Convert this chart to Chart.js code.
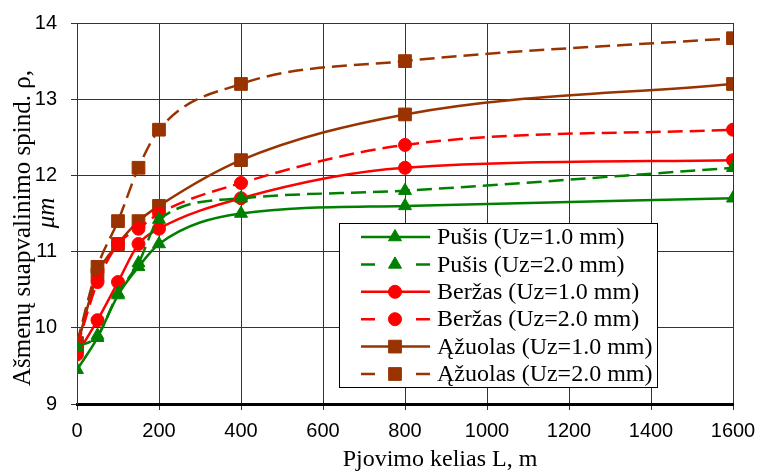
<!DOCTYPE html>
<html>
<head>
<meta charset="utf-8">
<script src="https://cdn.jsdelivr.net/npm/chart.js@4/dist/chart.umd.min.js"></script>
<style>
html,body{margin:0;padding:0;background:#fff;}
#wrap{width:758px;height:471px;position:relative;}
</style>
</head>
<body>
<div id="wrap"><canvas id="c" width="758" height="471"></canvas></div>
<script>
// Distances (cutting path L, m)
const distances = [0, 50, 100, 150, 200, 400, 800, 1600];
// Series values (rounding radius, µm)
const pusis10   = [9.45, 9.87, 10.43, 10.8, 11.1, 11.5, 11.6, 11.7];
const pusis20   = [9.75, 9.9, 10.45, 10.85, 11.42, 11.7, 11.8, 12.1];
const berzas10  = [9.65, 10.1, 10.6, 11.1, 11.3, 11.7, 12.1, 12.2];
const berzas20  = [9.75, 10.6, 11.1, 11.3, 11.5, 11.9, 12.4, 12.6];
const azuolas10 = [9.75, 10.7, 11.1, 11.4, 11.6, 12.2, 12.8, 13.2];
const azuolas20 = [9.8, 10.8, 11.4, 12.1, 12.6, 13.2, 13.5, 13.8];
const seriesLabels = [
  'Pušis (Uz=1.0 mm)', 'Pušis (Uz=2.0 mm)',
  'Beržas (Uz=1.0 mm)', 'Beržas (Uz=2.0 mm)',
  'Ąžuolas (Uz=1.0 mm)', 'Ąžuolas (Uz=2.0 mm)'
];
const xTickValues = [0, 200, 400, 600, 800, 1000, 1200, 1400, 1600];
const yTickValues = [9, 10, 11, 12, 13, 14];
const yTitle = 'Ašmenų suapvalinimo spind. ρ,';
const yUnit = 'μm';
const xTitle = 'Pjovimo kelias L, m';

const GREEN = '#008000', RED = '#FF0000', BROWN = '#993300';
const DASH = [15, 7];

function ds(label, values, color, shape, dashed, radius) {
  return {
    label: label,
    data: distances.map((x, i) => ({x: x, y: values[i]})),
    borderColor: color,
    backgroundColor: color,
    pointBackgroundColor: color,
    pointBorderColor: color,
    pointStyle: shape,
    pointRadius: radius,
    pointHoverRadius: radius,
    pointBorderWidth: 1,
    borderWidth: 2.5,
    borderDash: dashed ? DASH : [],
    cubicInterpolationMode: 'monotone',
    fill: false
  };
}

const datasets = [
  ds(seriesLabels[0], pusis10, GREEN, 'triangle', false, 7.5),
  ds(seriesLabels[1], pusis20, GREEN, 'triangle', true, 7.5),
  ds(seriesLabels[2], berzas10, RED, 'circle', false, 6.5),
  ds(seriesLabels[3], berzas20, RED, 'circle', true, 6.5),
  ds(seriesLabels[4], azuolas10, BROWN, 'rect', false, 9),
  ds(seriesLabels[5], azuolas20, BROWN, 'rect', true, 9)
];

function drawMarker(ctx, shape, x, y, r, color) {
  ctx.save();
  ctx.fillStyle = color;
  ctx.strokeStyle = color;
  ctx.setLineDash([]);
  ctx.lineWidth = 1;
  ctx.beginPath();
  if (shape === 'triangle') {
    ctx.moveTo(x, y - r);
    ctx.lineTo(x + r * Math.sin(2 * Math.PI / 3), y - r * Math.cos(2 * Math.PI / 3));
    ctx.lineTo(x + r * Math.sin(4 * Math.PI / 3), y - r * Math.cos(4 * Math.PI / 3));
    ctx.closePath();
  } else if (shape === 'circle') {
    ctx.arc(x, y, r, 0, Math.PI * 2);
  } else {
    const s = r * Math.SQRT1_2;
    ctx.rect(x - s, y - s, 2 * s, 2 * s);
  }
  ctx.fill();
  ctx.stroke();
  ctx.restore();
}

const decorPlugin = {
  id: 'decor',
  afterDraw(chart) {
    const ctx = chart.ctx;
    // axis titles
    ctx.save();
    ctx.fillStyle = '#000';
    ctx.font = '24px "Liberation Serif", "Times New Roman", serif';
    ctx.textAlign = 'center';
    ctx.textBaseline = 'middle';
    ctx.fillText(xTitle, 440, 460);
    ctx.font = '25px "Liberation Serif", "Times New Roman", serif';
    ctx.translate(23, 228);
    ctx.rotate(-Math.PI / 2);
    ctx.fillText(yTitle, 0, 0);
    ctx.restore();
    ctx.save();
    ctx.fillStyle = '#000';
    ctx.font = 'italic 25px "Liberation Serif", "Times New Roman", serif';
    ctx.textAlign = 'center';
    ctx.textBaseline = 'middle';
    ctx.translate(47, 213);
    ctx.rotate(-Math.PI / 2);
    ctx.fillText(yUnit, 0, 0);
    ctx.restore();

    // legend
    const bx = 339, by = 223, bw = 318, bh = 164;
    ctx.save();
    ctx.fillStyle = '#fff';
    ctx.fillRect(bx, by, bw, bh);
    ctx.strokeStyle = '#000';
    ctx.lineWidth = 1;
    ctx.strokeRect(bx + 0.5, by + 0.5, bw, bh);
    chart.data.datasets.forEach((d, i) => {
      const cy = 237 + i * 27.4;
      ctx.strokeStyle = d.borderColor;
      ctx.lineWidth = 2.5;
      ctx.setLineDash([]);
      ctx.beginPath();
      if (d.borderDash && d.borderDash.length) {
        ctx.moveTo(361, cy); ctx.lineTo(375, cy);
        ctx.moveTo(416, cy); ctx.lineTo(430, cy);
      } else {
        ctx.moveTo(361, cy); ctx.lineTo(430, cy);
      }
      ctx.stroke();
      drawMarker(ctx, d.pointStyle, 395, cy, d.pointRadius, d.borderColor);
      ctx.fillStyle = '#000';
      ctx.font = '24px "Liberation Serif", "Times New Roman", serif';
      ctx.textAlign = 'left';
      ctx.textBaseline = 'middle';
      ctx.fillText(d.label, 437, cy + 1);
    });
    ctx.restore();
  }
};

new Chart(document.getElementById('c'), {
  type: 'line',
  data: { datasets: datasets },
  plugins: [decorPlugin],
  options: {
    responsive: false,
    animation: false,
    events: [],
    layout: { padding: { top: 23, right: 25, left: 0, bottom: 0 } },
    plugins: { legend: { display: false }, tooltip: { enabled: false }, title: { display: false } },
    scales: {
      x: {
        type: 'linear',
        min: 0, max: 1600,
        afterFit(s) { s.height = 67; s.paddingLeft = 0; s.paddingRight = 0; },
        afterBuildTicks(s) { s.ticks = xTickValues.map(v => ({value: v})); },
        grid: { color: '#333', lineWidth: 1, tickLength: 6, drawTicks: true },
        border: { color: '#000', width: 3 },
        ticks: { color: '#000', padding: 9, maxRotation: 0, callback: v => String(v), font: { family: '"Liberation Sans", Arial, sans-serif', size: 20 } }
      },
      y: {
        type: 'linear',
        min: 9, max: 14,
        afterFit(s) { s.width = 77; s.paddingTop = 0; s.paddingBottom = 0; },
        afterBuildTicks(s) { s.ticks = yTickValues.map(v => ({value: v})); },
        grid: { color: '#333', lineWidth: 1, tickLength: 6 },
        border: { color: '#333', width: 1 },
        ticks: { color: '#000', padding: 14, callback: v => String(v), font: { family: '"Liberation Sans", Arial, sans-serif', size: 20 } }
      }
    }
  }
});
</script>
</body>
</html>
